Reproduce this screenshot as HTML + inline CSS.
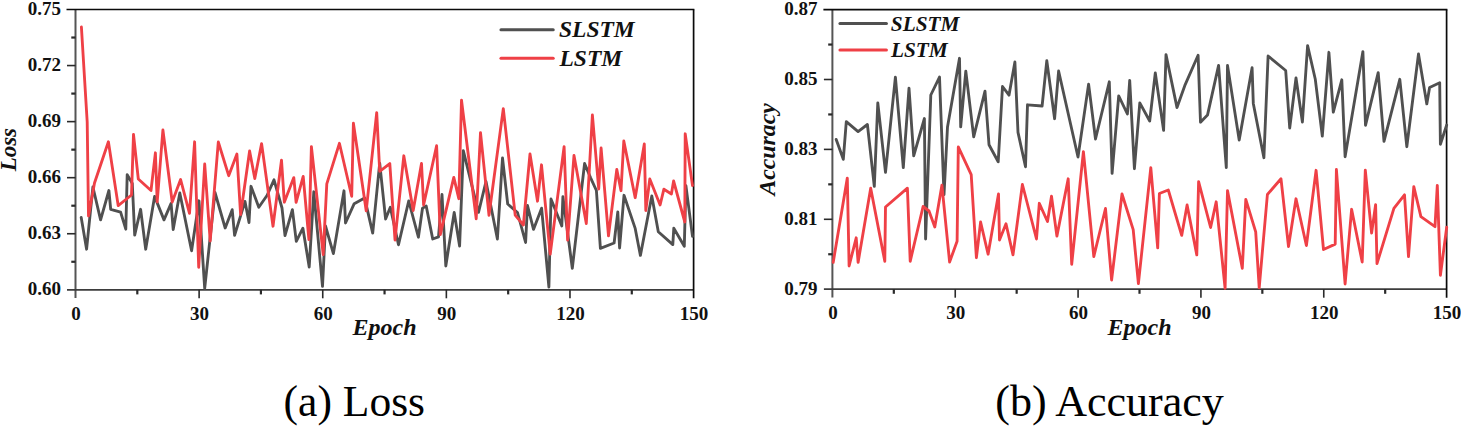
<!DOCTYPE html>
<html><head><meta charset="utf-8"><style>
html,body{margin:0;padding:0;background:#fff;}
body{width:1461px;height:426px;overflow:hidden;}
svg{display:block;}
text{font-family:"Liberation Serif",serif;fill:#111;}
.tl{font-size:19px;font-weight:bold;}
.al{font-size:24px;font-weight:bold;font-style:italic;}
.lg1{font-size:23.5px;font-weight:bold;font-style:italic;}
.lg2{font-size:21.3px;font-weight:bold;font-style:italic;}
.cap{font-size:45px;fill:#000;}
</style></head><body>
<svg width="1461" height="426" viewBox="0 0 1461 426">
<line x1="75.5" y1="9.5" x2="75.5" y2="298.1" stroke="#555" stroke-width="2"/>
<line x1="67.0" y1="289.8" x2="693.6" y2="289.8" stroke="#3d3d3d" stroke-width="1.8"/>
<line x1="66.5" y1="9.5" x2="694.35" y2="9.5" stroke="#0a0a0a" stroke-width="1.6"/>
<line x1="693.6" y1="9.5" x2="693.6" y2="298.3" stroke="#0a0a0a" stroke-width="1.7"/>
<text x="60.9" y="295.20" text-anchor="end" class="tl">0.60</text>
<line x1="71.3" y1="261.77" x2="75.5" y2="261.77" stroke="#2a2a2a" stroke-width="2.2"/>
<line x1="67.0" y1="233.74" x2="75.5" y2="233.74" stroke="#2a2a2a" stroke-width="1.6"/>
<text x="60.9" y="239.14" text-anchor="end" class="tl">0.63</text>
<line x1="71.3" y1="205.71" x2="75.5" y2="205.71" stroke="#2a2a2a" stroke-width="2.2"/>
<line x1="67.0" y1="177.68" x2="75.5" y2="177.68" stroke="#2a2a2a" stroke-width="1.6"/>
<text x="60.9" y="183.08" text-anchor="end" class="tl">0.66</text>
<line x1="71.3" y1="149.65" x2="75.5" y2="149.65" stroke="#2a2a2a" stroke-width="2.2"/>
<line x1="67.0" y1="121.62" x2="75.5" y2="121.62" stroke="#2a2a2a" stroke-width="1.6"/>
<text x="60.9" y="127.02" text-anchor="end" class="tl">0.69</text>
<line x1="71.3" y1="93.59" x2="75.5" y2="93.59" stroke="#2a2a2a" stroke-width="2.2"/>
<line x1="67.0" y1="65.56" x2="75.5" y2="65.56" stroke="#2a2a2a" stroke-width="1.6"/>
<text x="60.9" y="70.96" text-anchor="end" class="tl">0.72</text>
<line x1="71.3" y1="37.53" x2="75.5" y2="37.53" stroke="#2a2a2a" stroke-width="2.2"/>
<text x="60.9" y="14.90" text-anchor="end" class="tl">0.75</text>
<text x="76.00" y="319.60" text-anchor="middle" class="tl">0</text>
<line x1="137.31" y1="289.8" x2="137.31" y2="294.40000000000003" stroke="#2a2a2a" stroke-width="2.2"/>
<line x1="199.12" y1="289.8" x2="199.12" y2="298.3" stroke="#2a2a2a" stroke-width="1.6"/>
<text x="199.62" y="319.60" text-anchor="middle" class="tl">30</text>
<line x1="260.93" y1="289.8" x2="260.93" y2="294.40000000000003" stroke="#2a2a2a" stroke-width="2.2"/>
<line x1="322.74" y1="289.8" x2="322.74" y2="298.3" stroke="#2a2a2a" stroke-width="1.6"/>
<text x="323.24" y="319.60" text-anchor="middle" class="tl">60</text>
<line x1="384.55" y1="289.8" x2="384.55" y2="294.40000000000003" stroke="#2a2a2a" stroke-width="2.2"/>
<line x1="446.36" y1="289.8" x2="446.36" y2="298.3" stroke="#2a2a2a" stroke-width="1.6"/>
<text x="446.86" y="319.60" text-anchor="middle" class="tl">90</text>
<line x1="508.17" y1="289.8" x2="508.17" y2="294.40000000000003" stroke="#2a2a2a" stroke-width="2.2"/>
<line x1="569.98" y1="289.8" x2="569.98" y2="298.3" stroke="#2a2a2a" stroke-width="1.6"/>
<text x="570.48" y="319.60" text-anchor="middle" class="tl">120</text>
<line x1="631.79" y1="289.8" x2="631.79" y2="294.40000000000003" stroke="#2a2a2a" stroke-width="2.2"/>
<text x="694.10" y="319.60" text-anchor="middle" class="tl">150</text>
<text x="384.55" y="335.20" text-anchor="middle" class="al">Epoch</text>
<text transform="translate(16.2,149.65) rotate(-90) scale(0.958,1)" text-anchor="middle" class="al">Loss</text>
<line x1="832.4" y1="9.6" x2="832.4" y2="297.5" stroke="#555" stroke-width="2"/>
<line x1="823.9" y1="289.2" x2="1446.6" y2="289.2" stroke="#3d3d3d" stroke-width="1.8"/>
<line x1="823.4" y1="9.6" x2="1447.35" y2="9.6" stroke="#0a0a0a" stroke-width="1.6"/>
<line x1="1446.6" y1="9.6" x2="1446.6" y2="297.7" stroke="#0a0a0a" stroke-width="1.7"/>
<text x="817.6" y="294.60" text-anchor="end" class="tl">0.79</text>
<line x1="828.1999999999999" y1="254.25" x2="832.4" y2="254.25" stroke="#2a2a2a" stroke-width="2.2"/>
<line x1="823.9" y1="219.30" x2="832.4" y2="219.30" stroke="#2a2a2a" stroke-width="1.6"/>
<text x="817.6" y="224.70" text-anchor="end" class="tl">0.81</text>
<line x1="828.1999999999999" y1="184.35" x2="832.4" y2="184.35" stroke="#2a2a2a" stroke-width="2.2"/>
<line x1="823.9" y1="149.40" x2="832.4" y2="149.40" stroke="#2a2a2a" stroke-width="1.6"/>
<text x="817.6" y="154.80" text-anchor="end" class="tl">0.83</text>
<line x1="828.1999999999999" y1="114.45" x2="832.4" y2="114.45" stroke="#2a2a2a" stroke-width="2.2"/>
<line x1="823.9" y1="79.50" x2="832.4" y2="79.50" stroke="#2a2a2a" stroke-width="1.6"/>
<text x="817.6" y="84.90" text-anchor="end" class="tl">0.85</text>
<line x1="828.1999999999999" y1="44.55" x2="832.4" y2="44.55" stroke="#2a2a2a" stroke-width="2.2"/>
<text x="817.6" y="15.00" text-anchor="end" class="tl">0.87</text>
<text x="832.90" y="319.00" text-anchor="middle" class="tl">0</text>
<line x1="893.82" y1="289.2" x2="893.82" y2="293.8" stroke="#2a2a2a" stroke-width="2.2"/>
<line x1="955.24" y1="289.2" x2="955.24" y2="297.7" stroke="#2a2a2a" stroke-width="1.6"/>
<text x="955.74" y="319.00" text-anchor="middle" class="tl">30</text>
<line x1="1016.66" y1="289.2" x2="1016.66" y2="293.8" stroke="#2a2a2a" stroke-width="2.2"/>
<line x1="1078.08" y1="289.2" x2="1078.08" y2="297.7" stroke="#2a2a2a" stroke-width="1.6"/>
<text x="1078.58" y="319.00" text-anchor="middle" class="tl">60</text>
<line x1="1139.50" y1="289.2" x2="1139.50" y2="293.8" stroke="#2a2a2a" stroke-width="2.2"/>
<line x1="1200.92" y1="289.2" x2="1200.92" y2="297.7" stroke="#2a2a2a" stroke-width="1.6"/>
<text x="1201.42" y="319.00" text-anchor="middle" class="tl">90</text>
<line x1="1262.34" y1="289.2" x2="1262.34" y2="293.8" stroke="#2a2a2a" stroke-width="2.2"/>
<line x1="1323.76" y1="289.2" x2="1323.76" y2="297.7" stroke="#2a2a2a" stroke-width="1.6"/>
<text x="1324.26" y="319.00" text-anchor="middle" class="tl">120</text>
<line x1="1385.18" y1="289.2" x2="1385.18" y2="293.8" stroke="#2a2a2a" stroke-width="2.2"/>
<text x="1447.10" y="319.00" text-anchor="middle" class="tl">150</text>
<text x="1139.50" y="334.60" text-anchor="middle" class="al">Epoch</text>
<text transform="translate(774.8,149.40) rotate(-90) scale(0.99,1)" text-anchor="middle" class="al">Accuracy</text>
<polyline points="81.2,217.5 86.6,249.2 92.9,187.0 100.6,219.9 108.9,190.5 110.7,209.3 120.6,212.1 125.8,229.2 127.2,174.6 132.3,183.5 134.7,235.1 140.6,209.3 145.7,249.2 154.6,196.4 164.0,219.9 171.1,203.4 173.2,229.6 179.8,193.0 191.6,250.8 199.0,200.8 204.7,288.4 215.0,192.5 225.2,228.0 232.2,209.7 234.6,235.4 245.0,201.4 249.0,222.5 251.0,186.3 258.8,207.3 267.0,195.5 274.0,179.8 282.0,208.0 285.0,235.6 292.4,209.6 296.3,241.3 302.9,228.2 309.2,267.0 313.8,191.8 322.5,286.4 325.5,226.0 333.4,253.6 344.0,190.8 345.5,223.0 354.2,203.7 364.6,197.9 372.7,233.1 379.7,163.1 385.6,219.0 390.3,207.3 398.5,244.8 408.7,201.0 418.4,237.2 422.5,208.2 426.2,205.9 432.7,239.0 438.5,236.8 442.0,194.5 445.8,266.0 454.2,212.5 459.6,246.0 463.3,150.6 478.5,212.3 486.0,181.5 497.4,239.0 502.5,158.0 507.7,204.0 517.5,212.5 525.6,242.5 527.5,205.5 533.5,229.4 541.6,208.2 548.9,287.0 551.0,199.0 561.8,226.0 562.9,196.7 572.3,268.3 584.6,163.5 590.5,177.6 596.4,190.5 600.4,248.3 614.1,243.0 617.8,212.0 619.6,248.0 624.0,195.3 635.2,228.4 640.4,255.4 651.8,196.0 658.3,231.7 672.8,244.6 673.8,228.2 684.3,246.2 685.9,185.6 692.5,236.4" fill="none" stroke="#505050" stroke-width="2.85" stroke-linejoin="round" stroke-linecap="round"/>
<polyline points="81.4,27.0 87.2,122.0 88.5,216.0 94.5,183.0 108.4,141.8 118.2,205.6 131.5,195.0 133.5,134.4 138.3,179.0 151.0,190.5 155.4,152.8 157.2,202.0 162.9,130.0 172.2,202.0 180.6,179.5 189.5,213.3 194.6,141.8 198.7,267.3 204.7,164.0 210.2,241.0 218.3,142.0 228.7,175.7 236.9,154.0 240.6,214.5 249.6,151.0 254.8,178.6 261.6,143.6 273.0,226.2 281.5,160.2 284.3,202.2 293.8,177.6 296.1,202.4 303.2,176.4 308.9,239.5 311.4,146.6 323.2,254.6 326.8,183.8 339.4,143.3 351.7,196.3 353.4,123.2 366.2,210.8 376.7,112.6 379.7,171.3 389.8,163.6 395.0,240.0 403.8,155.8 413.2,210.6 421.5,163.5 423.6,205.0 436.6,145.7 440.3,234.6 453.8,177.4 458.8,198.7 461.5,100.2 476.2,218.8 480.5,132.6 489.0,215.3 503.3,108.6 515.2,215.1 523.4,225.0 530.0,154.0 537.5,201.2 541.5,164.8 550.2,254.2 564.1,146.6 567.6,240.1 574.0,155.4 586.3,223.5 592.4,115.0 598.7,189.0 601.1,148.0 608.5,235.8 616.8,169.5 621.0,190.7 623.8,141.0 635.2,197.7 644.3,144.0 645.8,210.5 649.8,179.0 660.1,205.0 663.9,189.2 671.4,194.0 673.6,181.0 684.8,222.0 685.2,133.8 692.5,185.6" fill="none" stroke="#ef4046" stroke-width="2.85" stroke-linejoin="round" stroke-linecap="round"/>
<polyline points="836.2,139.4 843.3,159.3 846.3,121.7 858.1,131.6 867.4,124.5 874.3,186.4 877.8,102.9 885.5,172.3 895.4,77.1 903.3,167.6 909.0,88.1 913.7,155.8 924.4,118.5 925.6,239.0 930.8,95.0 939.5,77.1 944.0,194.6 947.5,127.0 959.5,58.3 960.7,126.9 965.8,71.2 973.7,136.8 985.0,91.2 989.0,144.7 998.2,161.8 1002.5,86.5 1009.0,95.2 1014.9,62.0 1018.0,132.4 1025.5,166.8 1027.5,104.8 1042.1,106.0 1046.8,60.7 1054.6,118.7 1058.6,71.0 1078.0,157.0 1088.6,84.1 1095.5,139.0 1109.3,81.8 1112.1,173.4 1118.7,95.9 1127.4,114.0 1129.7,80.4 1134.4,168.7 1139.8,102.9 1149.7,121.0 1155.3,73.0 1163.6,130.4 1166.0,54.6 1177.0,107.6 1185.2,84.6 1198.1,55.3 1200.5,122.2 1207.5,115.1 1218.6,65.4 1226.3,167.6 1227.5,65.4 1239.2,140.0 1252.1,67.7 1253.3,103.4 1263.9,157.7 1268.1,56.0 1285.7,70.5 1289.7,128.0 1296.0,78.0 1302.4,122.0 1307.6,45.6 1315.3,79.3 1322.3,136.1 1328.9,52.3 1333.3,112.2 1341.8,79.8 1345.1,156.8 1362.9,51.6 1365.5,125.3 1378.2,72.7 1384.0,141.3 1399.8,79.3 1406.8,146.7 1418.5,54.0 1426.8,103.9 1429.6,87.5 1439.7,82.8 1440.4,144.3 1446.7,125.0" fill="none" stroke="#505050" stroke-width="2.85" stroke-linejoin="round" stroke-linecap="round"/>
<polyline points="833.2,262.4 847.3,178.1 849.1,266.0 856.2,237.8 858.1,262.4 870.7,188.2 884.8,261.3 885.5,207.0 907.4,188.2 910.2,261.3 923.1,206.5 929.0,211.0 934.8,227.0 941.9,185.2 949.6,262.0 957.1,241.3 958.3,146.9 971.2,174.6 976.4,257.7 980.6,222.0 988.1,254.2 998.5,194.0 999.5,240.0 1006.0,223.7 1013.0,254.9 1022.4,184.5 1036.5,239.0 1039.3,203.3 1047.5,221.5 1051.5,196.2 1056.9,236.1 1068.2,178.8 1071.7,264.3 1083.4,151.6 1093.8,256.6 1105.5,208.5 1111.6,280.0 1122.0,194.0 1133.2,229.6 1138.4,283.6 1150.8,167.6 1157.7,247.9 1159.4,193.5 1168.3,190.0 1181.7,235.4 1187.1,205.0 1196.8,254.9 1198.6,181.7 1210.6,227.5 1216.2,201.8 1225.1,288.3 1227.5,190.6 1242.3,268.3 1245.8,199.4 1255.7,231.9 1259.2,287.8 1267.4,194.5 1281.0,178.8 1288.5,246.5 1296.0,198.8 1306.4,245.5 1316.1,170.3 1323.5,249.5 1335.2,244.1 1336.4,169.5 1345.1,284.0 1351.6,209.3 1362.2,262.0 1365.3,170.2 1371.6,233.1 1375.6,204.6 1377.0,263.6 1393.9,208.4 1404.5,194.8 1408.5,256.6 1413.8,186.6 1420.9,216.6 1435.0,226.7 1437.3,185.4 1440.4,275.3 1446.7,227.2" fill="none" stroke="#ef4046" stroke-width="2.85" stroke-linejoin="round" stroke-linecap="round"/>
<line x1="501" y1="29.7" x2="553.2" y2="29.7" stroke="#505050" stroke-width="3.1" stroke-linecap="round"/>
<line x1="501" y1="58.3" x2="553.2" y2="58.3" stroke="#ef4046" stroke-width="3.1" stroke-linecap="round"/>
<text x="559" y="37.2" class="lg1">SLSTM</text>
<text x="559.5" y="66.2" class="lg1">LSTM</text>
<line x1="840" y1="23.5" x2="886.4" y2="23.5" stroke="#505050" stroke-width="3.1" stroke-linecap="round"/>
<line x1="840" y1="50" x2="886.4" y2="50" stroke="#ef4046" stroke-width="3.1" stroke-linecap="round"/>
<text x="890.8" y="30.8" class="lg2">SLSTM</text>
<text x="891" y="57.1" class="lg2">LSTM</text>
<text transform="translate(283.6,416.2) scale(0.968,1)" class="cap">(a) Loss</text>
<text transform="translate(995.3,416.2) scale(0.978,1)" class="cap">(b) Accuracy</text>
</svg>
</body></html>
